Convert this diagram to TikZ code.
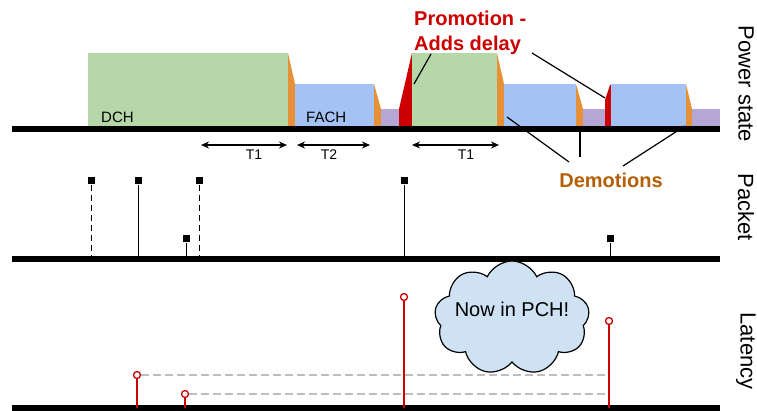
\documentclass[tikz,border=0pt]{standalone}
\usepackage{fontspec}
\setmainfont{Liberation Sans}
\usepackage{xcolor}
\usepackage{tikz}
\definecolor{dchgreen}{RGB}{182, 215, 168}
\definecolor{fachblue}{RGB}{164, 194, 244}
\definecolor{pchpurple}{RGB}{180, 167, 214}
\definecolor{demoorange}{RGB}{230, 145, 56}
\definecolor{promored}{RGB}{204, 0, 0}
\definecolor{demotext}{RGB}{180, 95, 6}
\definecolor{cloudblue}{RGB}{207, 226, 243}
\definecolor{guidegray}{RGB}{190, 190, 190}
\usetikzlibrary{arrows.meta, positioning, calc, shapes.symbols}

\begin{document}
\begin{tikzpicture}[
    x=1pt, y=-1pt,
    axisbar/.style={draw=black, line width=6pt},
    statelabel/.style={font=\fontsize{15}{18}\selectfont, anchor=base west, inner sep=0pt},
    timer/.style={{Stealth[length=8pt, width=7pt]}-{Stealth[length=8pt, width=7pt]}, line width=1.3pt},
    timerlabel/.style={font=\fontsize{14}{16}\selectfont, inner sep=0pt},
    rowlabel/.style={font=\fontsize{22}{26}\selectfont, rotate=-90, inner sep=0pt},
    callout/.style={font=\bfseries\fontsize{20}{25}\selectfont, inner sep=0pt},
    pointer/.style={line width=1.2pt},
    pkt/.style={rectangle, fill=black, minimum size=7pt, inner sep=0pt},
    stem/.style={line width=1pt},
    lat/.style={circle, draw=promored, fill=white, line width=1.3pt, minimum size=7pt, inner sep=0pt},
    latstem/.style={draw=promored, line width=1.3pt},
    guide/.style={draw=guidegray, line width=1.3pt, dash pattern=on 8pt off 4pt}
]
    \useasboundingbox (0,0) rectangle (757,411);

    % Power state blocks
    \fill[dchgreen] (88,53) rectangle (288,126);
    \fill[demoorange] (288,53) -- (295,84) -- (295,126) -- (288,126) -- cycle;
    \fill[fachblue] (295,84) rectangle (374,126);
    \fill[demoorange] (374,84) -- (381,109) -- (381,126) -- (374,126) -- cycle;
    \fill[pchpurple] (381,109) rectangle (399,126);
    \fill[promored] (399,126) -- (399,109) -- (412,53) -- (412,126) -- cycle;
    \fill[dchgreen] (412,53) rectangle (497,126);
    \fill[demoorange] (497,53) -- (504,84) -- (504,126) -- (497,126) -- cycle;
    \fill[fachblue] (504,84) rectangle (576,126);
    \fill[demoorange] (576,84) -- (583,109) -- (583,126) -- (576,126) -- cycle;
    \fill[pchpurple] (583,109) rectangle (605,126);
    \fill[promored] (605,126) -- (605,100) -- (610,85) -- (611,85) -- (611,126) -- cycle;
    \fill[fachblue] (611,84) rectangle (686,126);
    \fill[demoorange] (686,84) -- (692,109) -- (692,126) -- (686,126) -- cycle;
    \fill[pchpurple] (692,109) rectangle (720,126);

    \node[statelabel] (dch) at (101,123) {DCH};
    \node[statelabel] (fach) at (306,123) {FACH};

    % Callouts
    \node[callout, text=promored, align=left, anchor=north west] (promo) at (414,11) {Promotion -\\Adds delay};
    \node[callout, text=demotext] (demo) at (611,180) {Demotions};

    \coordinate (promo-a) at (431,54);
    \coordinate (promo-b) at (414,84);
    \coordinate (promo-c) at (532,53);
    \coordinate (promo-d) at (605,98);
    \draw[pointer] (promo-a) -- (promo-b);
    \draw[pointer] (promo-c) -- (promo-d);

    \coordinate (demo-a) at (507,117);
    \coordinate (demo-b) at (569,162);
    \coordinate (demo-c) at (580,126);
    \coordinate (demo-d) at (580,157);
    \coordinate (demo-e) at (623,166);
    \coordinate (demo-f) at (685,126);
    \draw[pointer] (demo-a) -- (demo-b);
    \draw[pointer] (demo-c) -- (demo-d);
    \draw[pointer] (demo-e) -- (demo-f);

    % Axes
    \coordinate (ps-left) at (12,129);
    \coordinate (ps-right) at (720,129);
    \coordinate (pk-left) at (12,259);
    \coordinate (pk-right) at (720,259);
    \coordinate (lt-left) at (12,408);
    \coordinate (lt-right) at (720,408);
    \draw[axisbar] (ps-left) -- (ps-right);
    \draw[axisbar] (pk-left) -- (pk-right);
    \draw[axisbar] (lt-left) -- (lt-right);

    % Timers
    \coordinate (t1-start) at (201,145);
    \coordinate (t1-end) at (287,145);
    \coordinate (t2-start) at (297,145);
    \coordinate (t2-end) at (370,145);
    \coordinate (t3-start) at (412,145);
    \coordinate (t3-end) at (499,145);
    \draw[timer] (t1-start) -- (t1-end);
    \draw[timer] (t2-start) -- (t2-end);
    \draw[timer] (t3-start) -- (t3-end);
    \node[timerlabel] (t1) at (254,155) {T1};
    \node[timerlabel] (t2) at (329,155) {T2};
    \node[timerlabel] (t3) at (466,155) {T1};

    % Packets
    \node[pkt] (p1) at (91,181) {};
    \node[pkt] (p2) at (138,181) {};
    \node[pkt] (p3) at (186,239) {};
    \node[pkt] (p4) at (199,181) {};
    \node[pkt] (p5) at (404,181) {};
    \node[pkt] (p6) at (610,239) {};
    \draw[stem, dash pattern=on 6pt off 4pt] (p1.south) -- (p1 |- pk-left);
    \draw[stem] (p2.south) -- (p2 |- pk-left);
    \draw[stem] (p3.south) -- (p3 |- pk-left);
    \draw[stem, dash pattern=on 6pt off 4pt] (p4.south) -- (p4 |- pk-left);
    \draw[stem] (p5.south) -- (p5 |- pk-left);
    \draw[stem] (p6.south) -- (p6 |- pk-left);

    % Latency
    \node[lat] (l1) at (137,375) {};
    \node[lat] (l2) at (185,394) {};
    \node[lat] (l3) at (404,297) {};
    \node[lat] (l4) at (609,321) {};
    \draw[guide] (l1.east) -- (l1 -| l4);
    \draw[guide] (l2.east) -- (l2 -| l4);
    \draw[latstem] (l1.south) -- (l1 |- lt-left);
    \draw[latstem] (l2.south) -- (l2 |- lt-left);
    \draw[latstem] (l3.south) -- (l3 |- lt-left);
    \draw[latstem] (l4.south) -- (l4 |- lt-left);

    \node[cloud, cloud puffs=9, cloud puff arc=130, aspect=1.35, draw=black, line width=1.2pt, fill=cloudblue,
          minimum width=155pt, minimum height=114pt] (pch) at (512,318) {};
    \node[font=\fontsize{20}{24}\selectfont, inner sep=0pt] (pchtext) at (512,309) {Now in PCH!};

    % Row labels
    \node[rowlabel] (power) at (746,84) {Power state};
    \node[rowlabel] (packet) at (746,207) {Packet};
    \node[rowlabel] (latency) at (746,351) {Latency};
\end{tikzpicture}
\end{document}
